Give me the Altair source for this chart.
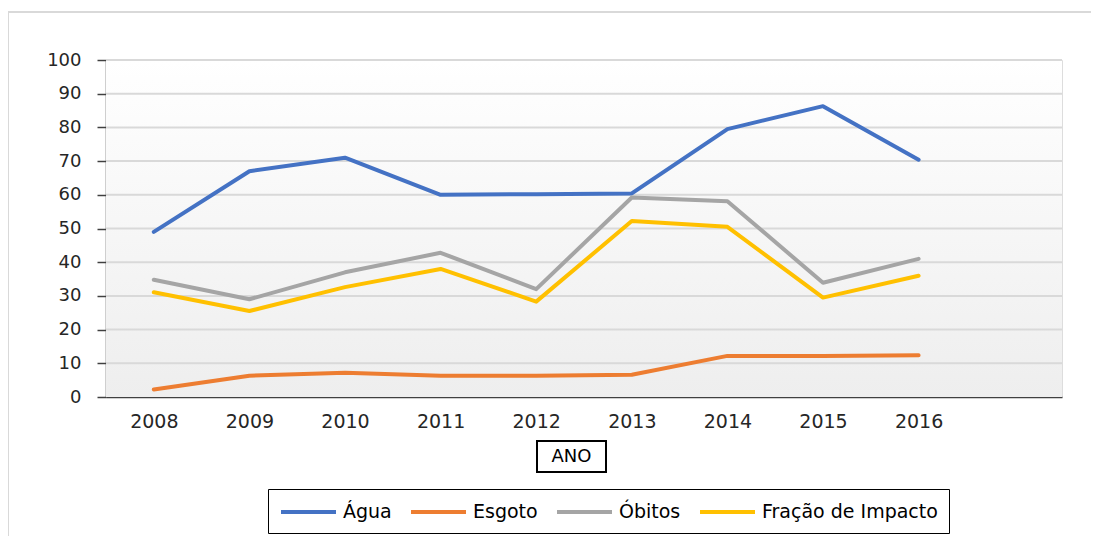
import altair as alt
import pandas as pd

years = [2008, 2009, 2010, 2011, 2012, 2013, 2014, 2015, 2016]
series_names = ["Água", "Esgoto", "Óbitos", "Fração de Impacto"]
agua = [49.0, 67.0, 71.0, 60.0, 60.2, 60.4, 79.5, 86.3, 70.4]
esgoto = [2.2, 6.3, 7.2, 6.3, 6.3, 6.6, 12.2, 12.2, 12.4]
obitos = [34.8, 29.0, 37.0, 42.8, 32.0, 59.2, 58.1, 33.9, 41.0]
fracao = [31.1, 25.5, 32.6, 38.0, 28.3, 52.2, 50.5, 29.5, 36.0]
colors = ["#4472C4", "#ED7D31", "#A5A5A5", "#FFC000"]
y_ticks = [0, 10, 20, 30, 40, 50, 60, 70, 80, 90, 100]

rows = []
for name, vals in zip(series_names, [agua, esgoto, obitos, fracao]):
    for yr, v in zip(years, vals):
        rows.append({"Ano": yr, "Valor": v, "Serie": name})
df = pd.DataFrame(rows)
grid_df = pd.DataFrame({"g": y_ticks[1:]})
one = pd.DataFrame({"a": [0]})

W, H = 956, 337
FONT = "DejaVu Sans"

xscale = alt.Scale(domain=[2007.5, 2017.5], nice=False, zero=False)
yscale = alt.Scale(domain=[0, 100], nice=False)
yaxis = alt.Axis(values=y_ticks, grid=False, title=None, tickSize=9, tickColor="#404040",
                 tickWidth=1.5, labelFont=FONT, labelFontSize=18, labelColor="#262626",
                 labelPadding=16, labelOverlap=False,
                 domainColor="#404040", domainWidth=1.5)

border = alt.Chart(one).mark_rect(fill=None, stroke="#d9d9d9", strokeWidth=2).encode(
    x=alt.value(-98), x2=alt.value(1010), y=alt.value(-48), y2=alt.value(520)
)

bg = alt.Chart(one).mark_rect(
    color=alt.Gradient(
        gradient="linear",
        stops=[alt.GradientStop(offset=0, color="#ffffff"), alt.GradientStop(offset=1, color="#eeeeee")],
        x1=0, x2=0, y1=0, y2=1,
    )
).encode(x=alt.value(0), x2=alt.value(W), y=alt.value(0), y2=alt.value(H))

grid = alt.Chart(grid_df).mark_rule(color="#d9d9d9", strokeWidth=2).encode(
    y=alt.Y("g:Q", scale=yscale, axis=yaxis),
    x=alt.value(0), x2=alt.value(W),
)

lines = alt.Chart(df).mark_line(strokeWidth=4, strokeCap="round", strokeJoin="round").encode(
    x=alt.X("Ano:Q", scale=xscale,
            axis=alt.Axis(values=years, format="d", ticks=False, grid=False, title=None,
                          labelFont=FONT, labelFontSize=19, labelColor="#262626",
                          labelPadding=15, labelOverlap=False,
                          domainColor="#404040", domainWidth=1.5)),
    y=alt.Y("Valor:Q", scale=yscale, axis=yaxis),
    color=alt.Color("Serie:N", scale=alt.Scale(domain=series_names, range=colors),
                    legend=alt.Legend(title=None, orient="none", legendX=162, legendY=429,
                                      direction="horizontal", symbolType="M-1,0H4.5", symbolSize=400,
                                      symbolStrokeWidth=4, labelFont=FONT, labelFontSize=19,
                                      labelColor="#000000", labelLimit=400, strokeColor="black",
                                      padding=11, columnPadding=11, labelOffset=40)),
    detail="Serie:N",
)

ano_box = alt.Chart(one).mark_rect(fill="white", stroke="black", strokeWidth=2).encode(
    x=alt.value(431), x2=alt.value(500), y=alt.value(381), y2=alt.value(412)
)
ano_text = alt.Chart(one).mark_text(text="ANO", font=FONT, fontSize=18, color="#000000",
                                    align="center", baseline="middle").encode(
    x=alt.value(465.5), y=alt.value(397)
)

chart = alt.layer(border, bg, grid, lines, ano_box, ano_text).properties(
    width=W, height=H,
    autosize=alt.AutoSizeParams(type="none"),
    padding={"left": 98, "top": 52, "right": 29, "bottom": 139},
).configure_view(stroke=None).configure_legend(strokeWidth=2).configure(background="white")

chart.save("out.html", embed_options={"renderer": "svg", "actions": False})
